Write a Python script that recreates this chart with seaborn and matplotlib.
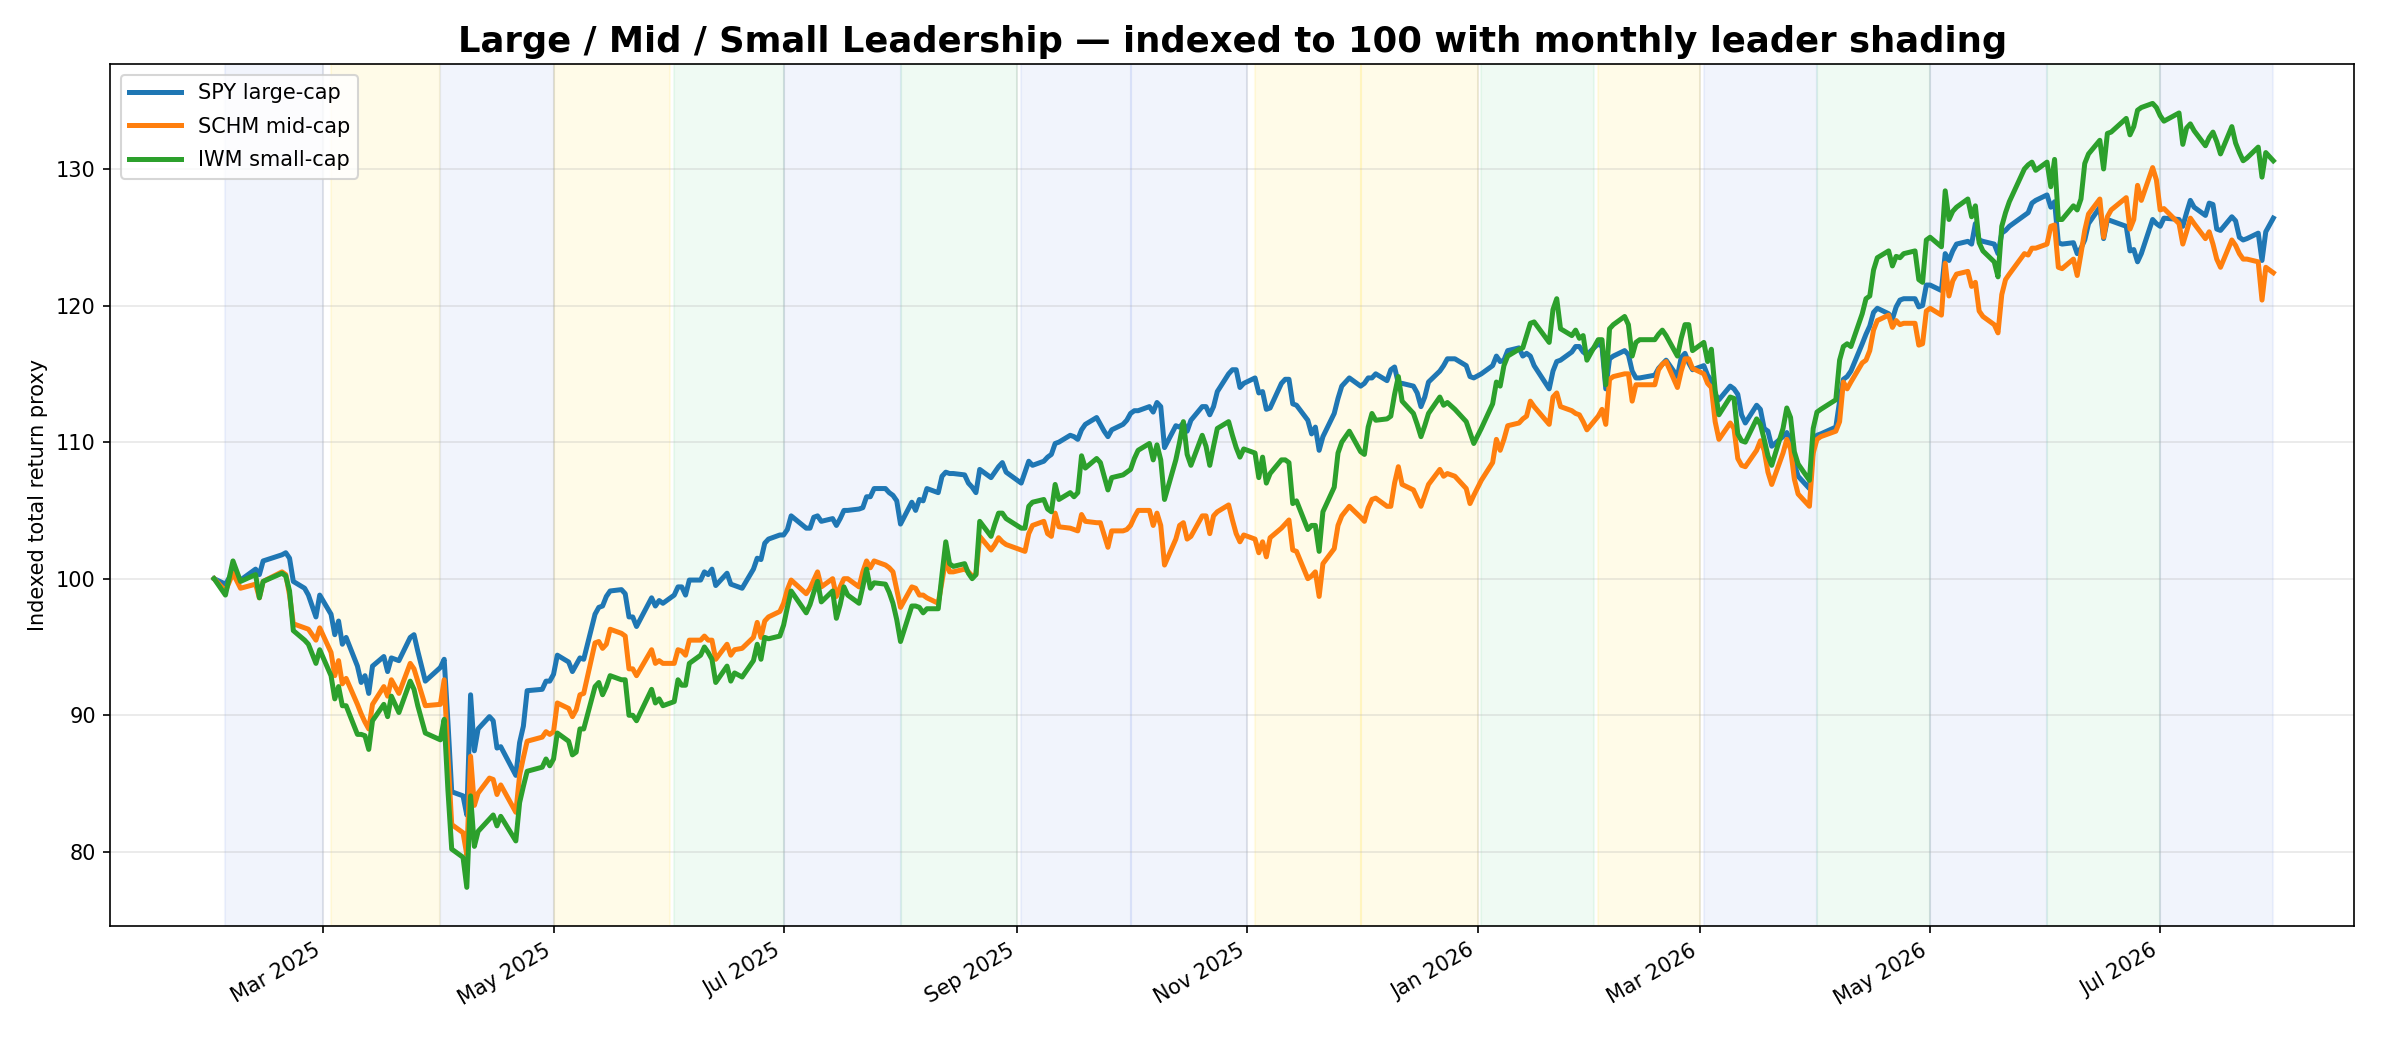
import matplotlib
matplotlib.use("Agg")
import matplotlib.pyplot as plt
import matplotlib.dates as mdates
import pandas as pd
import seaborn as sns

# trading dates, one line per month
dates = (
    ["2025-01-31"]
    + ["2025-02-%02d" % d for d in [3, 5, 7, 11, 12, 13, 18, 19, 20, 21, 24, 25, 27, 28]]
    + ["2025-03-%02d" % d for d in [3, 4, 5, 6, 7, 10, 11, 12, 13, 14, 17, 18, 19, 21, 24, 25, 26, 28]]
    + ["2025-04-%02d" % d for d in [1, 2, 3, 4, 7, 8, 9, 10, 11, 14, 15, 16, 17, 21, 22, 23, 24, 28, 29, 30]]
    + ["2025-05-%02d" % d for d in [1, 2, 5, 6, 7, 8, 9, 12, 13, 14, 15, 16, 19, 20, 21, 22, 23, 27, 28, 29, 30]]
    + ["2025-06-%02d" % d for d in [2, 3, 4, 5, 6, 9, 10, 11, 12, 13, 16, 17, 18, 20, 23, 24, 25, 26, 27, 30]]
    + ["2025-07-%02d" % d for d in [1, 2, 3, 7, 8, 9, 10, 11, 14, 15, 16, 17, 18, 21, 22, 23, 24, 25, 28, 29, 30, 31]]
    + ["2025-08-%02d" % d for d in [1, 4, 5, 6, 7, 8, 11, 12, 13, 14, 15, 18, 19, 20, 21, 22, 25, 26, 27, 28, 29]]
    + ["2025-09-%02d" % d for d in [2, 3, 4, 5, 8, 9, 10, 11, 12, 15, 16, 17, 18, 19, 22, 23, 24, 25, 26, 29, 30]]
    + ["2025-10-%02d" % d for d in [1, 2, 3, 6, 7, 8, 9, 10, 13, 14, 15, 16, 17, 20, 21, 22, 23, 24, 27, 28, 29, 30, 31]]
    + ["2025-11-%02d" % d for d in [3, 4, 5, 6, 7, 10, 11, 12, 13, 14, 17, 18, 19, 20, 21, 24, 25, 26, 28]]
    + ["2025-12-%02d" % d for d in [1, 2, 3, 4, 5, 8, 9, 10, 11, 12, 15, 16, 17, 18, 19, 22, 23, 24, 26, 29, 30, 31]]
    + ["2026-01-%02d" % d for d in [2, 5, 6, 7, 8, 9, 12, 13, 14, 15, 16, 20, 21, 22, 23, 26, 27, 28, 29, 30]]
    + ["2026-02-%02d" % d for d in [2, 3, 4, 5, 6, 9, 10, 11, 12, 13, 17, 18, 19, 20, 23, 24, 25, 26, 27]]
    + ["2026-03-%02d" % d for d in [2, 3, 4, 5, 6, 9, 10, 11, 12, 13, 16, 17, 18, 19, 20, 23, 24, 25, 26, 27, 30, 31]]
    + ["2026-04-%02d" % d for d in [1, 2, 6, 7, 8, 9, 10, 13, 14, 15, 16, 17, 20, 21, 22, 23, 24, 27, 28, 29, 30]]
    + ["2026-05-%02d" % d for d in [1, 4, 5, 6, 7, 8, 11, 12, 13, 14, 15, 18, 19, 20, 21, 22, 26, 27, 28, 29]]
    + ["2026-06-%02d" % d for d in [1, 2, 3, 4, 5, 8, 9, 10, 11, 12, 15, 16, 17, 18, 22, 23, 24, 25, 26, 29, 30]]
    + ["2026-07-%02d" % d for d in [1, 2, 6, 7, 8, 9, 10, 13, 14, 15, 16, 17, 20, 21, 22, 23, 24, 27, 28, 29, 30, 31]]
)

spy = [
    100.0,
    99.6, 100.5, 99.9, 100.7, 100.3, 101.3, 101.75, 101.9, 101.5, 99.8, 99.3, 98.8, 97.2, 98.8,
    97.4, 95.9, 96.9, 95.2, 95.7, 93.6, 92.4, 92.9, 91.6, 93.6, 94.3, 93.2, 94.2, 94.0, 95.7, 95.9, 94.7, 92.5,
    93.5, 94.1, 89.5, 84.4, 84.1, 82.7, 91.5, 87.4, 89.0, 89.9, 89.6, 87.6, 87.7, 85.6, 88.0, 89.2, 91.8, 91.9, 92.5, 92.5,
    93.0, 94.4, 93.9, 93.2, 93.7, 94.2, 94.1, 97.4, 97.9, 98.0, 98.7, 99.1, 99.2, 98.9, 97.2, 97.2, 96.5, 98.6, 98.0, 98.4, 98.2,
    98.8, 99.4, 99.4, 98.8, 99.9, 99.9, 100.5, 100.3, 100.7, 99.5, 100.4, 99.6, 99.5, 99.3, 100.7, 101.5, 101.4, 102.6, 102.9, 103.2,
    103.2, 103.6, 104.6, 103.7, 103.7, 104.5, 104.6, 104.2, 104.4, 103.9, 104.4, 105.0, 105.0, 105.1, 105.2, 106.0, 106.0, 106.6, 106.6, 106.3, 106.1, 105.7,
    104.0, 105.6, 105.0, 105.8, 105.7, 106.6, 106.3, 107.5, 107.8, 107.7, 107.7, 107.6, 107.0, 106.7, 106.3, 108.0, 107.4, 107.8, 108.2, 108.5, 107.8,
    107.0, 107.8, 108.6, 108.3, 108.6, 108.9, 109.1, 109.9, 110.0, 110.5, 110.4, 110.2, 110.9, 111.3, 111.8, 111.3, 110.8, 110.4, 110.9, 111.3, 111.6,
    112.1, 112.3, 112.3, 112.6, 112.2, 112.9, 112.6, 109.6, 111.2, 111.1, 111.4, 110.8, 111.6, 112.6, 112.6, 112.0, 112.6, 113.7, 115.0, 115.3, 115.3, 114.0, 114.3,
    114.7, 113.6, 113.7, 112.4, 112.5, 114.3, 114.6, 114.6, 112.8, 112.7, 111.6, 110.6, 111.1, 109.4, 110.4, 112.1, 113.2, 114.1, 114.7,
    114.1, 114.3, 114.7, 114.7, 115.0, 114.5, 115.3, 115.5, 114.3, 114.3, 114.1, 113.6, 112.6, 113.3, 114.4, 115.2, 115.6, 116.1, 116.1, 115.6, 114.8, 114.7,
    115.0, 115.6, 116.3, 115.9, 116.0, 116.7, 116.9, 116.3, 116.5, 116.3, 115.6, 113.9, 115.2, 115.9, 116.0, 116.6, 117.0, 117.0, 116.6, 116.4,
    117.2, 117.0, 113.9, 116.1, 116.3, 116.7, 116.4, 115.2, 114.7, 114.7, 114.9, 115.4, 115.7, 116.0, 114.8, 116.2, 116.5, 115.8, 115.3,
    115.6, 114.9, 114.5, 113.5, 113.1, 114.1, 113.9, 113.5, 112.0, 111.4, 112.7, 112.4, 111.0, 110.8, 109.7, 110.4, 110.7, 110.1, 108.4, 107.5, 106.6, 109.5,
    110.5, 110.6, 111.1, 113.0, 114.6, 114.8, 115.2, 117.2, 117.9, 118.5, 119.5, 119.8, 119.4, 119.0, 119.9, 120.4, 120.5, 120.5, 119.9, 120.0, 121.5,
    121.5, 121.1, 123.8, 123.3, 124.0, 124.5, 124.7, 124.5, 126.0, 124.8, 124.7, 124.5, 123.8, 125.3, 125.5, 125.8, 126.6, 126.8, 127.5, 127.7,
    128.1, 127.2, 127.6, 124.6, 124.5, 124.6, 123.8, 124.2, 124.8, 126.0, 127.2, 124.9, 126.3, 126.2, 125.8, 124.0, 124.1, 123.2, 123.8, 126.3, 126.0,
    125.8, 126.4, 126.3, 125.8, 126.8, 127.7, 127.2, 126.6, 127.5, 127.4, 125.6, 125.5, 126.5, 126.2, 125.0, 124.8, 124.9, 125.3, 123.3, 125.4, 125.9, 126.4,
]

schm = [
    100.0,
    99.1, 100.4, 99.3, 99.6, 98.6, 99.8, 100.5, 100.3, 98.8, 96.7, 96.4, 96.3, 95.5, 96.4,
    94.6, 92.9, 94.0, 92.3, 92.7, 90.8, 90.1, 89.5, 89.0, 90.8, 92.1, 91.4, 92.6, 91.6, 93.8, 93.4, 92.5, 90.7,
    90.8, 92.6, 87.0, 82.0, 81.4, 79.8, 87.0, 83.4, 84.3, 85.4, 85.3, 84.2, 84.9, 82.9, 85.6, 86.9, 88.1, 88.4, 88.8, 88.6,
    88.8, 90.9, 90.5, 89.9, 90.4, 91.5, 91.6, 95.3, 95.4, 94.9, 95.2, 96.3, 96.0, 95.8, 93.4, 93.4, 92.9, 94.8, 93.8, 94.0, 93.8,
    93.8, 94.8, 94.7, 94.4, 95.5, 95.5, 95.8, 95.5, 95.5, 94.1, 95.2, 94.4, 94.8, 94.9, 95.7, 96.8, 95.7, 96.9, 97.2, 97.6,
    98.2, 99.2, 99.9, 98.9, 99.3, 99.9, 100.5, 99.4, 100.0, 98.7, 99.4, 100.0, 100.0, 99.4, 100.5, 101.3, 100.8, 101.3, 101.0, 100.8, 100.5, 99.2,
    97.9, 99.4, 99.3, 98.8, 98.8, 98.6, 98.2, 99.8, 101.4, 100.5, 100.5, 100.7, 100.5, 100.2, 100.3, 103.1, 102.1, 102.5, 103.0, 102.7, 102.5,
    102.1, 102.0, 103.3, 103.9, 104.2, 103.3, 103.1, 104.8, 103.8, 103.7, 103.6, 103.5, 104.7, 104.2, 104.1, 104.1, 103.2, 102.3, 103.5, 103.5, 103.6,
    103.9, 104.5, 105.0, 105.0, 103.9, 104.8, 103.9, 101.0, 102.9, 103.9, 104.1, 102.9, 103.1, 104.6, 104.6, 103.3, 104.6, 104.9, 105.4, 104.3, 103.3, 102.7, 103.2,
    102.9, 101.9, 102.7, 101.6, 103.0, 103.7, 104.0, 104.3, 102.1, 102.0, 100.0, 100.2, 100.5, 98.7, 101.1, 102.2, 103.9, 104.6, 105.3,
    104.5, 104.2, 105.2, 105.8, 105.9, 105.3, 105.3, 107.0, 108.2, 106.9, 106.5, 105.9, 105.3, 106.1, 106.9, 108.0, 107.5, 107.7, 107.5, 106.6, 105.5, 106.1,
    107.2, 108.5, 110.2, 109.4, 110.2, 111.2, 111.4, 111.7, 111.9, 113.0, 112.6, 111.3, 113.3, 113.6, 112.6, 112.3, 112.1, 112.0, 111.5, 110.9,
    111.9, 112.4, 111.3, 114.6, 114.8, 115.0, 115.0, 113.0, 114.2, 114.2, 114.2, 115.3, 115.7, 115.9, 114.0, 115.2, 116.1, 116.1, 115.4,
    115.0, 114.3, 114.0, 111.5, 110.2, 111.4, 111.0, 108.8, 108.3, 108.2, 109.4, 110.1, 109.4, 107.8, 106.9, 109.2, 110.2, 109.5, 107.3, 106.2, 105.3, 109.2,
    110.2, 110.4, 110.8, 111.5, 114.4, 113.9, 114.4, 115.8, 116.0, 116.7, 118.2, 118.9, 119.3, 118.4, 118.9, 118.6, 118.7, 118.7, 117.1, 117.2, 119.6,
    119.8, 119.3, 123.1, 120.7, 121.8, 122.3, 122.5, 121.4, 121.7, 119.6, 119.2, 118.6, 118.0, 120.8, 121.9, 122.3, 123.8, 123.7, 124.2, 124.2,
    124.5, 125.8, 125.9, 122.8, 122.7, 123.4, 122.2, 123.8, 125.5, 126.7, 127.8, 125.0, 126.5, 127.0, 127.9, 125.6, 126.3, 128.8, 127.7, 130.1, 129.2,
    127.0, 127.1, 126.0, 124.5, 125.4, 126.4, 126.0, 124.9, 125.4, 124.5, 123.4, 122.8, 124.8, 124.4, 123.8, 123.4, 123.4, 123.2, 120.4, 122.8, 122.6, 122.4,
]

iwm = [
    100.0,
    98.8, 101.3, 99.8, 100.3, 98.6, 99.8, 100.4, 100.2, 99.1, 96.2, 95.5, 95.2, 93.8, 94.8,
    92.9, 91.2, 92.1, 90.7, 90.7, 88.6, 88.6, 88.5, 87.5, 89.6, 90.8, 89.9, 91.4, 90.2, 92.5, 91.9, 90.7, 88.7,
    88.2, 89.7, 84.5, 80.2, 79.6, 77.4, 84.1, 80.4, 81.5, 82.4, 82.7, 81.9, 82.6, 80.8, 83.6, 84.8, 85.9, 86.2, 86.8, 86.3,
    86.8, 88.7, 88.1, 87.1, 87.3, 89.0, 89.0, 92.1, 92.4, 91.5, 92.1, 92.9, 92.6, 92.6, 90.0, 90.0, 89.6, 91.9, 90.9, 91.2, 90.7,
    91.0, 92.6, 92.2, 92.2, 93.8, 94.4, 95.0, 94.6, 94.1, 92.4, 93.6, 92.5, 93.1, 92.8, 94.0, 95.2, 94.1, 95.7, 95.6, 95.8,
    96.6, 97.9, 99.1, 97.5, 98.1, 99.0, 99.8, 98.3, 99.1, 97.1, 98.1, 99.4, 98.8, 98.2, 99.4, 100.7, 99.3, 99.7, 99.6, 99.0, 98.2, 97.0,
    95.4, 98.0, 98.0, 97.9, 97.5, 97.8, 97.8, 100.3, 102.7, 101.1, 100.9, 101.1, 100.4, 100.0, 100.3, 104.2, 103.1, 104.0, 104.8, 104.8, 104.4,
    103.7, 103.7, 105.3, 105.6, 105.8, 105.1, 104.9, 106.9, 105.8, 106.3, 106.0, 106.3, 109.0, 108.1, 108.8, 108.5, 107.5, 106.5, 107.4, 107.6, 107.8,
    108.0, 108.8, 109.4, 109.9, 108.7, 109.8, 108.7, 105.8, 108.7, 110.0, 111.5, 109.1, 108.3, 110.5, 109.7, 108.3, 109.7, 111.0, 111.5, 110.5, 109.6, 108.9, 109.5,
    109.2, 107.4, 108.9, 107.0, 107.7, 108.7, 108.7, 108.5, 105.5, 105.7, 103.6, 103.9, 103.9, 102.0, 104.9, 106.7, 109.2, 110.0, 110.8,
    109.3, 109.1, 111.1, 112.1, 111.6, 111.7, 111.9, 113.5, 114.8, 113.0, 112.1, 111.3, 110.4, 111.2, 112.1, 113.3, 112.7, 112.9, 112.4, 111.5, 110.7, 109.9,
    111.0, 112.8, 114.4, 114.1, 115.6, 116.3, 116.8, 116.9, 117.8, 118.7, 118.8, 117.3, 119.7, 120.5, 118.3, 117.8, 118.2, 117.6, 117.8, 116.0,
    117.5, 117.5, 114.2, 118.3, 118.6, 119.2, 118.6, 116.3, 117.3, 117.5, 117.5, 117.9, 118.2, 117.8, 116.3, 117.6, 118.6, 118.6, 116.7,
    117.3, 115.9, 116.8, 113.8, 112.0, 113.3, 113.2, 110.6, 110.1, 110.0, 111.7, 111.3, 110.2, 109.0, 108.3, 111.0, 112.5, 111.8, 109.3, 108.4, 107.2, 111.0,
    112.2, 112.4, 113.1, 116.0, 117.0, 117.2, 117.0, 119.4, 120.5, 120.7, 122.6, 123.5, 124.0, 122.9, 123.6, 123.5, 123.8, 124.0, 121.9, 121.7, 124.8,
    125.0, 124.3, 128.4, 126.3, 126.9, 127.2, 127.8, 126.5, 127.3, 124.6, 124.0, 123.2, 122.1, 125.8, 126.8, 127.6, 130.0, 130.3, 130.5, 129.9,
    130.5, 128.7, 130.7, 126.3, 126.3, 127.3, 127.0, 127.8, 130.4, 131.1, 132.1, 130.0, 132.6, 132.7, 133.7, 132.5, 133.1, 134.3, 134.5, 134.8, 134.5,
    133.9, 133.5, 134.1, 131.8, 133.0, 133.3, 132.8, 131.7, 132.3, 132.7, 132.0, 131.1, 133.1, 131.9, 131.2, 130.6, 130.8, 131.6, 129.4, 131.2, 130.9, 130.6,
]

# monthly leader (which fund returned the most that month)
months = ["2025-02", "2025-03", "2025-04", "2025-05", "2025-06", "2025-07", "2025-08", "2025-09", "2025-10",
          "2025-11", "2025-12", "2026-01", "2026-02", "2026-03", "2026-04", "2026-05", "2026-06", "2026-07"]
leaders = ["SPY", "SCHM", "SPY", "SCHM", "IWM", "SPY", "IWM", "SPY", "SPY",
           "SCHM", "SCHM", "IWM", "SCHM", "SPY", "IWM", "SPY", "IWM", "SPY"]

series_names = ["SPY large-cap", "SCHM mid-cap", "IWM small-cap"]
line_colors = ["#1f77b4", "#ff7f0e", "#2ca02c"]
shade = {"SPY": ("#4169e1", 0.07), "SCHM": ("#ffd700", 0.09), "IWM": ("#22c55e", 0.07)}

#%%
df = pd.DataFrame({"date": pd.to_datetime(dates),
                   series_names[0]: spy, series_names[1]: schm, series_names[2]: iwm})
long_df = df.melt(id_vars="date", var_name="series", value_name="value")

fig, ax = plt.subplots(figsize=(16, 1040 / 150), dpi=150)
fig.subplots_adjust(left=0.046, right=0.981, bottom=0.110, top=0.938)

# leader shading: first trading day of the month to calendar month end
first, last = df["date"].min(), df["date"].max()
for m, lead in zip(months, leaders):
    p = pd.Period(m, freq="M")
    in_month = df["date"][(df["date"] >= p.start_time) & (df["date"] <= p.end_time)]
    lo = in_month.min()
    hi = min(p.end_time, last)
    c, a = shade[lead]
    ax.axvspan(lo, hi, color=c, alpha=a, zorder=0)

sns.lineplot(data=long_df, x="date", y="value", hue="series", hue_order=series_names,
             palette=line_colors, linewidth=2.4, ax=ax, zorder=3)

ax.grid(True, alpha=0.3)
ax.set_title("Large / Mid / Small Leadership — indexed to 100 with monthly leader shading",
             fontsize=17, fontweight="bold")
ax.set_xlabel("")
ax.set_ylabel("Indexed total return proxy")
ax.set_xlim(pd.Timestamp("2025-01-03 12:00"), pd.Timestamp("2026-08-21 12:00"))
ax.set_ylim(74.6, 137.65)
ax.xaxis.set_major_locator(mdates.MonthLocator(bymonth=[1, 3, 5, 7, 9, 11]))
ax.xaxis.set_major_formatter(mdates.DateFormatter("%b %Y"))
plt.setp(ax.get_xticklabels(), rotation=30, ha="right")
sns.move_legend(ax, "upper left", title=None, fontsize=10, handlelength=2.5, labelspacing=0.65)

fig.savefig("out.png", dpi=150)
